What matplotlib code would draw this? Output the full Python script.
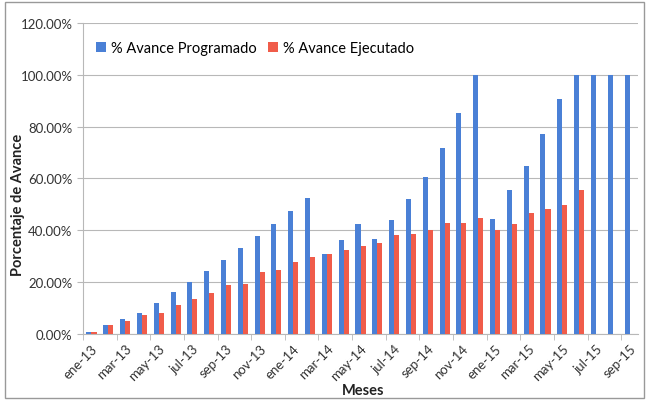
import numpy as np
import matplotlib.pyplot as plt
from matplotlib.patches import Rectangle
from matplotlib.ticker import FuncFormatter

# months ene-13 .. sep-15
meses = ["ene-13", "feb-13", "mar-13", "abr-13", "may-13", "jun-13", "jul-13", "ago-13",
         "sep-13", "oct-13", "nov-13", "dic-13", "ene-14", "feb-14", "mar-14", "abr-14",
         "may-14", "jun-14", "jul-14", "ago-14", "sep-14", "oct-14", "nov-14", "dic-14",
         "ene-15", "feb-15", "mar-15", "abr-15", "may-15", "jun-15", "jul-15", "ago-15",
         "sep-15"]

programado = [0.8, 3.3, 5.7, 8.1, 11.8, 16.2, 20.0, 24.1, 28.5, 33.0, 37.8, 42.4,
              47.6, 52.5, 30.9, 36.3, 42.4, 36.6, 43.8, 52.2, 60.6, 71.9, 85.4, 100.0,
              44.3, 55.5, 64.9, 77.1, 90.7, 100.0, 100.0, 100.0, 100.0]

ejecutado = [0.9, 3.3, 5.0, 7.1, 7.9, 11.3, 13.3, 15.8, 18.9, 19.4, 23.8, 24.6,
             27.7, 29.8, 30.9, 32.4, 34.0, 35.1, 38.1, 38.7, 40.1, 42.7, 43.0, 44.7,
             40.2, 42.3, 46.8, 48.2, 49.7, 55.5, 0, 0, 0]

blue = "#4a80d6"
red = "#f05c4a"
grid_c = "#b8b8b8"

plt.rcParams["font.family"] = ["Lato", "DejaVu Sans"]

fig = plt.figure(figsize=(6.49, 4.02), dpi=100)
ax = fig.add_axes([0.128, 0.167, 0.855, 0.773])

x = np.arange(len(meses))
w = 0.3
ax.bar(x - w / 2, programado, width=w, color=blue, label="% Avance Programado", zorder=3)
ax.bar(x + w / 2, ejecutado, width=w, color=red, label="% Avance Ejecutado", zorder=3)

ax.set_xlim(-0.5, len(meses) - 0.5)
ax.set_ylim(0, 120)
ax.set_yticks(np.arange(0, 121, 20))
ax.yaxis.set_major_formatter(FuncFormatter(lambda v, p: f"{v:.2f}%"))
ax.grid(axis="y", color=grid_c, linewidth=0.8, zorder=0)

ax.set_xticks(x[::2])
ax.set_xticklabels(meses[::2], rotation=45, ha="right", rotation_mode="anchor")
ax.set_xticks(np.arange(-0.5, len(meses), 2), minor=True)
ax.tick_params(axis="x", which="major", length=0, pad=6, labelsize=9.5, colors="#333333")
ax.tick_params(axis="x", which="minor", length=4, color=grid_c)
ax.tick_params(axis="y", length=4, color=grid_c, labelsize=9.5, colors="#333333")

for s in ["top", "right"]:
    ax.spines[s].set_visible(False)
for s in ["left", "bottom"]:
    ax.spines[s].set_color(grid_c)

fig.text(18 / 649, 0.49, "Porcentaje de Avance", rotation=90, ha="center", va="center",
         fontsize=10.5, fontweight="bold", color="#222222")
fig.text(363 / 649, 1 - 391 / 402, "Meses", ha="center", va="center",
         fontsize=10.5, fontweight="bold", color="#222222")

ax.legend(loc="upper left", bbox_to_anchor=(0.0, 0.985), ncol=2, frameon=False,
          fontsize=10.5, handlelength=0.7, handleheight=0.7, handletextpad=0.3,
          columnspacing=0.8)

fig.patches.append(Rectangle((0.008, 0.008), 0.984, 0.984, transform=fig.transFigure,
                             fill=False, edgecolor="#999999", linewidth=1))

fig.savefig("out.png", dpi=100)
